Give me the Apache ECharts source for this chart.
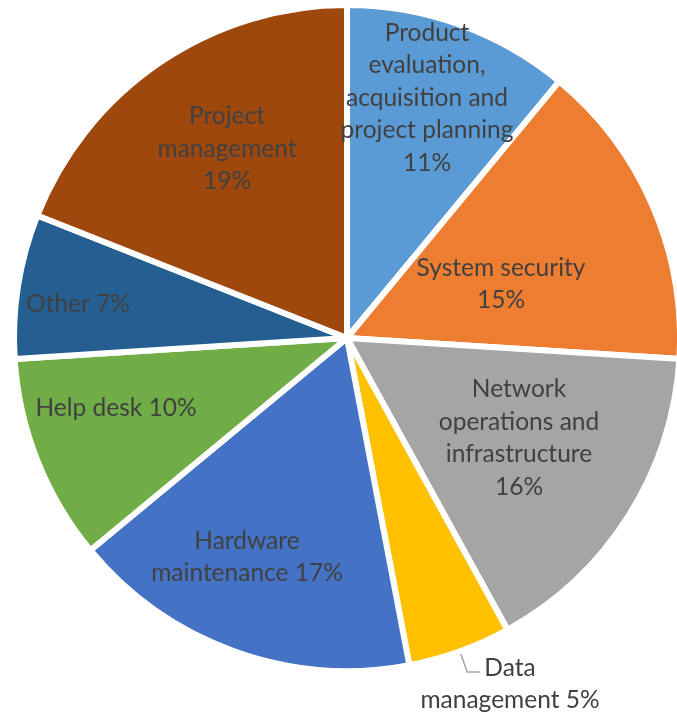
<!DOCTYPE html>
<html>
<head>
<meta charset="utf-8">
<script src="https://cdn.jsdelivr.net/npm/echarts@6/dist/echarts.min.js"></script>
<style>
html,body{margin:0;padding:0;background:#fff;}
#main{width:677px;height:714px;}
</style>
</head>
<body>
<div id="main"></div>
<script>
// ---- data ----
var categories = ['Product evaluation, acquisition and project planning', 'System security', 'Network operations and infrastructure', 'Data management', 'Hardware maintenance', 'Help desk', 'Other', 'Project management'];
var values = [11, 15, 16, 5, 17, 10, 7, 19];
var labelTexts = ['Product\nevaluation,\nacquisition and\nproject planning', 'System security', 'Network\noperations and\ninfrastructure', 'Data\nmanagement', 'Hardware\nmaintenance', 'Help desk', 'Other', 'Project\nmanagement'];
var percentSeparators = ['\n', '\n', '\n', ' ', ' ', ' ', ' ', '\n'];
var colors = ['#5B9BD5', '#ED7D31', '#A5A5A5', '#FFC000', '#4472C4', '#70AD47', '#255E91', '#9E480E'];

// ---- layout (label block offsets from pie centre) ----
var CX = 347, CY = 338;
var labelOffsets = [[80, -240], [154, -54], [172, 100], [163, 346], [-100, 219], [-231, 70], [-269, -34], [-120, -189]];
var outsideIdx = 3;

var chart = echarts.init(document.getElementById('main'), null, {renderer: 'canvas'});
var seriesData = categories.map(function (c, i) {
  var outside = i === outsideIdx;
  return {
    name: c,
    value: values[i],
    itemStyle: {color: colors[i]},
    label: {position: outside ? 'outside' : 'inside'},
    labelLine: {show: outside}
  };
});

chart.setOption({
  animation: false,
  series: [{
    type: 'pie',
    center: [CX, CY],
    radius: [0, 333],
    startAngle: 90,
    clockwise: true,
    avoidLabelOverlap: false,
    emphasis: {disabled: true},
    itemStyle: {borderColor: '#ffffff', borderWidth: 6},
    label: {
      show: true,
      color: '#404040',
      fontFamily: 'Lato',
      fontSize: 24.5,
      lineHeight: 32.5,
      formatter: function (p) {
        return labelTexts[p.dataIndex] + percentSeparators[p.dataIndex] + Math.round(p.percent) + '%';
      }
    },
    labelLine: {
      length: 22,
      length2: 13,
      smooth: false,
      lineStyle: {color: '#A5A5A5', width: 1.5}
    },
    labelLayout: function (params) {
      var o = labelOffsets[params.dataIndex];
      var res = {x: CX + o[0], y: CY + o[1], align: 'center', verticalAlign: 'middle'};
      if (params.labelLinePoints) {
        res.labelLinePoints = params.labelLinePoints;
      }
      return res;
    },
    data: seriesData
  }]
});
</script>
</body>
</html>
